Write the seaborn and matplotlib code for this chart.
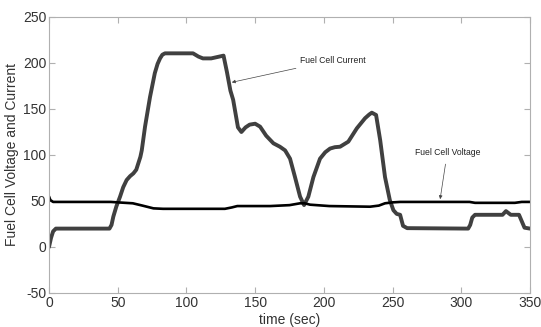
import matplotlib
matplotlib.use("Agg")
import matplotlib.pyplot as plt
import seaborn as sns
import pandas as pd

# Fuel cell current (A) vs time (s)
cur_t = [0, 1.5, 3, 5, 44, 45.5, 46.8, 49, 51.7, 54, 56.5, 59, 61.4, 63.5, 65, 66.5, 67.5, 69.9,
         73.5, 77, 79, 80.8, 82.5, 84.4, 104.8, 108.7, 112, 118, 124, 127,
         129.5, 132, 134, 137.5, 140, 143, 146, 150, 153.6, 158, 163.3, 168, 171.8, 175.4, 179,
         182.7, 185.6, 188.7, 192.4, 197.2, 201, 204.5, 208, 211.8, 217.8, 224, 230, 233,
         234.9, 238, 241, 244.5, 248, 250.6, 253, 255.5, 257.6, 260.6, 305, 306.5, 308, 310,
         330, 332.5, 336, 342, 344, 346, 350]
cur_v = [0, 10, 17, 20, 20, 24, 33, 44, 54.7, 65, 72.8, 77, 80, 84, 91, 98, 105, 131,
         163, 189, 199, 205, 209, 210.5, 210.5, 207, 205, 205, 207, 208,
         190, 170, 160, 130, 125, 130, 133, 134, 130.8, 121, 112.7, 109, 105, 96, 76,
         54.7, 45.6, 54.7, 76, 96, 103, 107, 108.5, 109, 114.5, 129, 140, 144,
         146, 143.5, 116, 76, 51, 40, 36, 35, 23, 20.5, 20, 24, 32, 35,
         35, 39, 35, 35, 28, 21, 20]

# Fuel cell voltage (V) vs time (s)
volt_t = [0, 1, 3, 37, 45, 50, 61, 68, 76, 83, 128, 133, 137, 161, 175, 182.7, 186, 190, 204,
          233.6, 240, 244.5, 250, 255.5, 306, 310, 339, 344, 350]
volt_v = [55, 51, 49, 49, 49, 48.5, 47.5, 45, 42, 41.5, 41.5, 43, 44.5, 44.5, 45.5, 47.5, 47.5,
          46, 44.5, 43.8, 45, 47.5, 48.5, 49, 49, 48, 48, 49, 49]

xticks = [0, 50, 100, 150, 200, 250, 300, 350]
yticks = [-50, 0, 50, 100, 150, 200, 250]

sns.set_theme(style="white")
plt.rcParams['font.family'] = ['Liberation Sans', 'DejaVu Sans']

fig = plt.figure(figsize=(5.41, 3.27), dpi=100)
ax = fig.add_axes([49/541, 1-293/327, (530-49)/541, (293-17)/327])

df_c = pd.DataFrame({"t": cur_t, "v": cur_v})
df_v = pd.DataFrame({"t": volt_t, "v": volt_v})
sns.lineplot(data=df_c, x="t", y="v", ax=ax, color="#404040", linewidth=2.8, sort=False)
sns.lineplot(data=df_v, x="t", y="v", ax=ax, color="black", linewidth=1.9, sort=False)

ax.set_xlim(0, 350)
ax.set_ylim(-50, 250)
ax.set_xticks(xticks)
ax.set_yticks(yticks)
ax.set_xticklabels([str(v) for v in xticks])
ax.set_yticklabels([str(v) for v in yticks])
ax.tick_params(direction="in", length=4, width=0.8, color="#b0b0b0",
               labelsize=10, labelcolor="#333333", top=True, right=True,
               bottom=True, left=True, pad=2)
for s in ax.spines.values():
    s.set_color("#b0b0b0")
    s.set_linewidth(0.8)
ax.set_xlabel("time (sec)", fontsize=10, color="#333333", labelpad=2)
ax.set_ylabel("Fuel Cell Voltage and Current", fontsize=10, color="#333333", labelpad=3)

ax.annotate("Fuel Cell Current", xy=(133, 179), xytext=(182.7, 203),
            fontsize=6.2, color="#222222", va="center", ha="left",
            arrowprops=dict(arrowstyle="-|>", color="#444444", lw=0.5, mutation_scale=5,
                            shrinkA=1, shrinkB=0))
ax.annotate("Fuel Cell Voltage", xy=(284.6, 52), xytext=(266, 103),
            fontsize=6.2, color="#222222", va="center", ha="left",
            arrowprops=dict(arrowstyle="-|>", color="#444444", lw=0.5, mutation_scale=5,
                            shrinkA=3, shrinkB=0))

fig.savefig("out.png", dpi=100)
